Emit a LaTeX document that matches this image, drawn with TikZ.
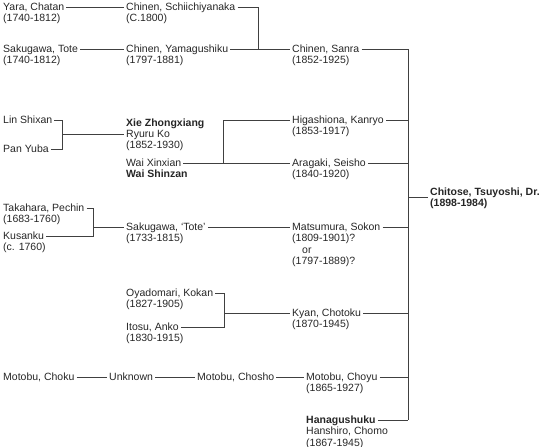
\documentclass[tikz,border=0pt]{standalone}
\usepackage{fontspec}
\setmainfont{Liberation Sans}

\begin{document}
\begin{tikzpicture}[x=1pt,y=-1pt,
  name node/.style={anchor=west,inner xsep=2pt,inner ysep=0pt,text height=9pt,text depth=2pt,
    font=\fontsize{10.5}{11}\selectfont,text=black!85},
  year node/.style={name node,anchor=north west},
  bold node/.style={font=\fontsize{10.5}{11}\selectfont\bfseries},
  link/.style={draw=black!75,line width=0.8pt},
  elbow/.style={to path={-| (\tikztotarget)}},
  elbow up/.style={to path={|- (\tikztotarget)}}]

  \useasboundingbox (0,0) rectangle (544,447);

  % Chinen line
  \node[name node] (chatan) at (1,7) {Yara, Chatan};
  \node[year node] (chatanY) at (chatan.south west) {(1740-1812)};
  \node[name node] (schiichi) at (124,7) {Chinen, Schiichiyanaka};
  \node[year node] (schiichiY) at (schiichi.south west) {(C.1800)};
  \node[name node] (tote) at (1,49) {Sakugawa, Tote};
  \node[year node] (toteY) at (tote.south west) {(1740-1812)};
  \node[name node] (yamagushiku) at (124,49) {Chinen, Yamagushiku};
  \node[year node] (yamagushikuY) at (yamagushiku.south west) {(1797-1881)};
  \node[name node] (sanra) at (290,49) {Chinen, Sanra};
  \node[year node] (sanraY) at (sanra.south west) {(1852-1925)};

  % Chinese masters
  \node[name node] (lin) at (1,120) {Lin Shixan};
  \node[name node] (pan) at (1,149) {Pan Yuba};
  \node[name node] (ryuru) at (124,134) {Ryuru Ko};
  \node[name node,bold node,anchor=south west] (xie) at (ryuru.north west) {Xie Zhongxiang};
  \node[year node] (ryuruY) at (ryuru.south west) {(1852-1930)};
  \node[name node] (xinxian) at (124,163) {Wai Xinxian};
  \node[year node,bold node] (shinzan) at (xinxian.south west) {Wai Shinzan};
  \node[name node] (higashiona) at (290,120) {Higashiona, Kanryo};
  \node[year node] (higashionaY) at (higashiona.south west) {(1853-1917)};
  \node[name node] (aragaki) at (290,163) {Aragaki, Seisho};
  \node[year node] (aragakiY) at (aragaki.south west) {(1840-1920)};

  % Shuri line
  \node[name node] (takahara) at (1,208) {Takahara, Pechin};
  \node[year node] (takaharaY) at (takahara.south west) {(1683-1760)};
  \node[name node] (kusanku) at (1,236) {Kusanku};
  \node[year node] (kusankuY) at (kusanku.south west) {(c. 1760)};
  \node[name node] (sakugawa) at (124,227) {Sakugawa, `Tote'};
  \node[year node] (sakugawaY) at (sakugawa.south west) {(1733-1815)};
  \node[name node] (matsumura) at (290,227) {Matsumura, Sokon};
  \node[year node] (matsumuraY) at (matsumura.south west) {(1809-1901)?};
  \node[year node] (matsumuraOr) at (matsumuraY.south west) {\hspace*{10pt}or};
  \node[year node] (matsumuraZ) at (matsumuraOr.south west) {(1797-1889)?};

  \node[name node] (oyadomari) at (124,293) {Oyadomari, Kokan};
  \node[year node] (oyadomariY) at (oyadomari.south west) {(1827-1905)};
  \node[name node] (itosu) at (124,327) {Itosu, Anko};
  \node[year node] (itosuY) at (itosu.south west) {(1830-1915)};
  \node[name node] (kyan) at (290,313) {Kyan, Chotoku};
  \node[year node] (kyanY) at (kyan.south west) {(1870-1945)};

  % Motobu line
  \node[name node] (choku) at (1,377) {Motobu, Choku};
  \node[name node] (unknown) at (107,377) {Unknown};
  \node[name node] (chosho) at (195,377) {Motobu, Chosho};
  \node[name node] (choyu) at (304,377) {Motobu, Choyu};
  \node[year node] (choyuY) at (choyu.south west) {(1865-1927)};
  \node[name node,bold node] (hanagushuku) at (304,420) {Hanagushuku};
  \node[year node] (hanshiro) at (hanagushuku.south west) {Hanshiro, Chomo};
  \node[year node] (hanshiroY) at (hanshiro.south west) {(1867-1945)};

  \node[name node,bold node] (chitose) at (428,192) {Chitose, Tsuyoshi, Dr.};
  \node[year node,bold node] (chitoseY) at (chitose.south west) {(1898-1984)};

  \coordinate (j1) at (258,49);
  \coordinate (j2) at (62,134);
  \coordinate (j3) at (223,163);
  \coordinate (j4) at (93,227);
  \coordinate (j5) at (224,313);
  \coordinate (bar) at (408,198);

  \path[link]
   (chatan) edge (schiichi)
   (tote) edge (yamagushiku)
   (schiichi) edge [elbow] (j1)
   (yamagushiku) edge (sanra)

   (lin) edge [elbow] (j2)
   (pan) edge [elbow] (j2)
   (j2) edge (ryuru)
   (xinxian) edge (aragaki)
   (j3) edge [elbow up] (higashiona)

   (takahara) edge [elbow] (j4)
   (kusanku) edge [elbow] (j4)
   (j4) edge (sakugawa)
   (sakugawa) edge (matsumura)
   (oyadomari) edge [elbow] (j5)
   (itosu) edge [elbow] (j5)
   (j5) edge (kyan)

   (choku) edge (unknown)
   (unknown) edge (chosho)
   (chosho) edge (choyu)

   (sanra) edge (sanra -| bar)
   (higashiona) edge (higashiona -| bar)
   (aragaki) edge (aragaki -| bar)
   (matsumura) edge (matsumura -| bar)
   (kyan) edge (kyan -| bar)
   (choyu) edge (choyu -| bar)
   (hanagushuku) edge (hanagushuku -| bar)
   (sanra -| bar) edge (hanagushuku -| bar)
   (chitose.south west -| bar) edge (chitose.south west);

\end{tikzpicture}
\end{document}
